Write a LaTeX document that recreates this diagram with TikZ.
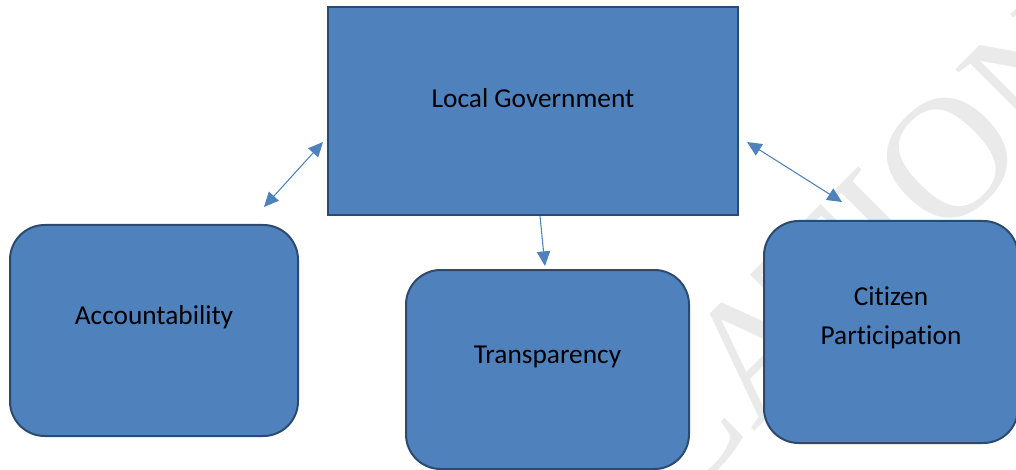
\documentclass[tikz,border=0pt]{standalone}
\usepackage{fontspec}
\setmainfont{Carlito}[Ligatures=NoCommon]
\newfontfamily\markfont{Liberation Serif}
\usetikzlibrary{calc}
\usetikzlibrary{shapes,arrows}
\usetikzlibrary{arrows.meta}

\definecolor{boxfill}{RGB}{79,129,189}
\definecolor{boxline}{RGB}{44,74,112}
\definecolor{markgray}{RGB}{234,234,234}

\tikzset{
    govbox/.style = {draw = boxline, fill = boxfill, line width = 1.5pt, inner sep = 0pt},
    roundbox/.style = {govbox, rounded corners = 26pt},
    boxtext/.style = {font = \fontsize{20.5}{29}\selectfont, align = center, text = black},
    link/.style = {draw = boxfill, line width = 0.8pt, {Triangle[length=11pt,width=10pt]}-{Triangle[length=11pt,width=10pt]}},
    onelink/.style = {draw = boxfill, line width = 0.8pt, -{Triangle[length=11pt,width=10pt]}}
}

\begin{document}
\begin{tikzpicture}[x = 0.75pt, y = -0.75pt]

    \useasboundingbox (0,0) rectangle (1016,470);

    % watermark behind the boxes
    \begin{scope}
        \clip (0,0) rectangle (1016,470);
        \node[font = \markfont\fontsize{130}{130}\selectfont, text = markgray, rotate = 45] (mark) at (856,250) {CATION};
    \end{scope}

    % boxes
    \node[govbox, minimum width = 307.5pt, minimum height = 156pt] (lg) at (533,111) {};
    \node[roundbox, minimum width = 216pt, minimum height = 158.25pt] (acc) at (154,330.5) {};
    \node[roundbox, minimum width = 212.25pt, minimum height = 149.25pt] (tr) at (547.5,369.5) {};
    \node[roundbox, minimum width = 190.5pt, minimum height = 166.5pt] (cit) at (891,332) {};

    % labels, a little above the middle
    \node[boxtext] (lgtext) at ($(lg.center)+(0,-13)$) {Local Government};
    \node[boxtext] (acctext) at ($(acc.center)+(0,-13)$) {Accountability};
    \node[boxtext] (trtext) at ($(tr.center)+(0,-13)$) {Transparency};
    \node[boxtext] (cittext) at ($(cit.center)+(0,-14)$) {Citizen\\Participation};

    % connectors
    \draw[link] ($(acc.north east)+(-35,-17)$) -- ($(lg.west)+(-4,31)$);
    \draw[onelink] ($(lg.south)+(7,0)$) -- ($(tr.north)+(-2.5,-3)$);
    \draw[link] ($(lg.east)+(8,31)$) -- ($(cit.north west)+(79,-18)$);

\end{tikzpicture}
\end{document}
